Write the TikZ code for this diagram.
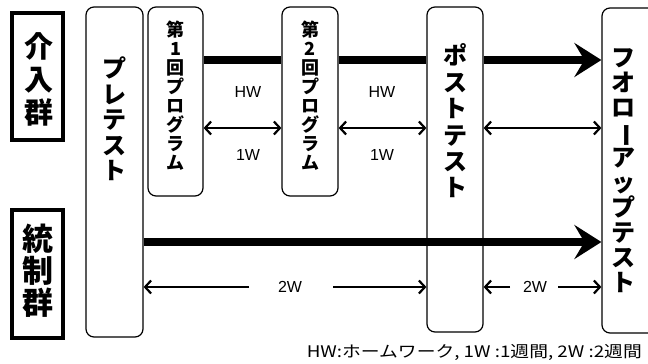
\documentclass[tikz,border=0pt]{standalone}
\usepackage{fontspec}
\usepackage{graphicx}
\setmainfont{Noto Sans CJK JP}
\newfontfamily\latinsans{Liberation Sans}
\usetikzlibrary{arrows.meta}
\tikzset{
  box/.style={draw, line width=1.2pt, rounded corners=8pt, inner sep=0pt},
  grp/.style={draw, line width=4pt, inner sep=0pt},
  vtext/.style={align=center, inner sep=0pt, font=\bfseries},
  thick arrow/.style={line width=8pt, -{Stealth[length=27pt,width=34pt,inset=10pt]}},
  thick line/.style={line width=8pt},
  thin arrow/.style={line width=2pt, {Straight Barb[length=6pt,width=13pt,line width=2.2pt]}-{Straight Barb[length=6pt,width=13pt,line width=2.2pt]}},
  thin end/.style={line width=2pt, -{Straight Barb[length=6pt,width=13pt,line width=2.2pt]}},
  wlabel/.style={inner sep=0pt, font=\latinsans\fontsize{16}{16}\selectfont}
}
\newcommand{\vbar}{\rotatebox[origin=c]{-90}{ー}}
\begin{document}
\begin{tikzpicture}[x=1pt,y=-1pt]
\useasboundingbox (0,0) rectangle (648,364);
% group labels
\node[grp, minimum width=51pt, minimum height=127pt] (g1) at (37.5,76.5) {};
\node[vtext, font=\bfseries\fontsize{29}{33}\selectfont] (g1t) at (38.5,79) {介\\入\\群};
\node[grp, minimum width=51pt, minimum height=128pt] (g2) at (37.5,274) {};
\node[vtext, font=\bfseries\fontsize{31}{32}\selectfont] (g2t) at (38.5,271) {統\\制\\群};
% boxes
\node[box, minimum width=57pt, minimum height=330pt] (pre) at (114.5,172) {};
\node[vtext, font=\bfseries\fontsize{24}{25.5}\selectfont] (pret) at (114.5,119) {プ\\レ\\テ\\ス\\ト};
\node[box, minimum width=55pt, minimum height=189pt] (p1) at (175.5,101.5) {};
\node[vtext, font=\bfseries\fontsize{18}{19}\selectfont] (p1t) at (175.5,95.5) {第\\1\\回\\プ\\ロ\\グ\\ラ\\ム};
\node[box, minimum width=56pt, minimum height=189pt] (p2) at (310,101.5) {};
\node[vtext, font=\bfseries\fontsize{18}{19}\selectfont] (p2t) at (310,95.5) {第\\2\\回\\プ\\ロ\\グ\\ラ\\ム};
\node[box, minimum width=56pt, minimum height=325pt] (post) at (455,169.5) {};
\node[vtext, font=\bfseries\fontsize{24}{26.4}\selectfont] (postt) at (455,121) {ポ\\ス\\ト\\テ\\ス\\ト};
\node[box, minimum width=58pt, minimum height=325pt] (fol) at (631,170.5) {};
\node[vtext, font=\bfseries\fontsize{24}{25}\selectfont] (folt) at (623,170.5) {フ\\オ\\ロ\\\vbar\\ア\\ッ\\プ\\テ\\ス\\ト};
% row coordinates
\coordinate (r1) at (0,60);
\coordinate (r2) at (0,128);
\coordinate (r3) at (0,242);
\coordinate (r4) at (0,287);
% intervention group
\draw[thick line] (p1.east |- r1) -- (p2.west |- r1);
\draw[thick line] (p2.east |- r1) -- (post.west |- r1);
\draw[thick arrow] (post.east |- r1) -- (fol.west |- r1);
\draw[thin arrow] (p1.east |- r2) -- (p2.west |- r2);
\draw[thin arrow] (p2.east |- r2) -- (post.west |- r2);
\draw[thin arrow] (post.east |- r2) -- (fol.west |- r2);
\node[wlabel] (hw1) at (248,92) {HW};
\node[wlabel] (w1a) at (248,155) {1W};
\node[wlabel] (hw2) at (382,92) {HW};
\node[wlabel] (w1b) at (382,155) {1W};
% control group
\draw[thick arrow] (pre.east |- r3) -- (fol.west |- r3);
\node[wlabel] (w2a) at (290,287) {2W};
\node[wlabel] (w2b) at (535,287) {2W};
\coordinate (c1) at (249,287);
\coordinate (c2) at (333,287);
\coordinate (c3) at (510,287);
\coordinate (c4) at (558,287);
\draw[thin end] (c1) -- (pre.east |- r4);
\draw[thin end] (c2) -- (post.west |- r4);
\draw[thin end] (c3) -- (post.east |- r4);
\draw[thin end] (c4) -- (fol.west |- r4);
% footnote
\node[anchor=east, inner sep=0pt, font=\fontsize{16}{16}\selectfont] (note) at (642,352) {\resizebox{335pt}{\height}{HW:ホームワーク, 1W :1週間, 2W :2週間}};
\end{tikzpicture}
\end{document}
